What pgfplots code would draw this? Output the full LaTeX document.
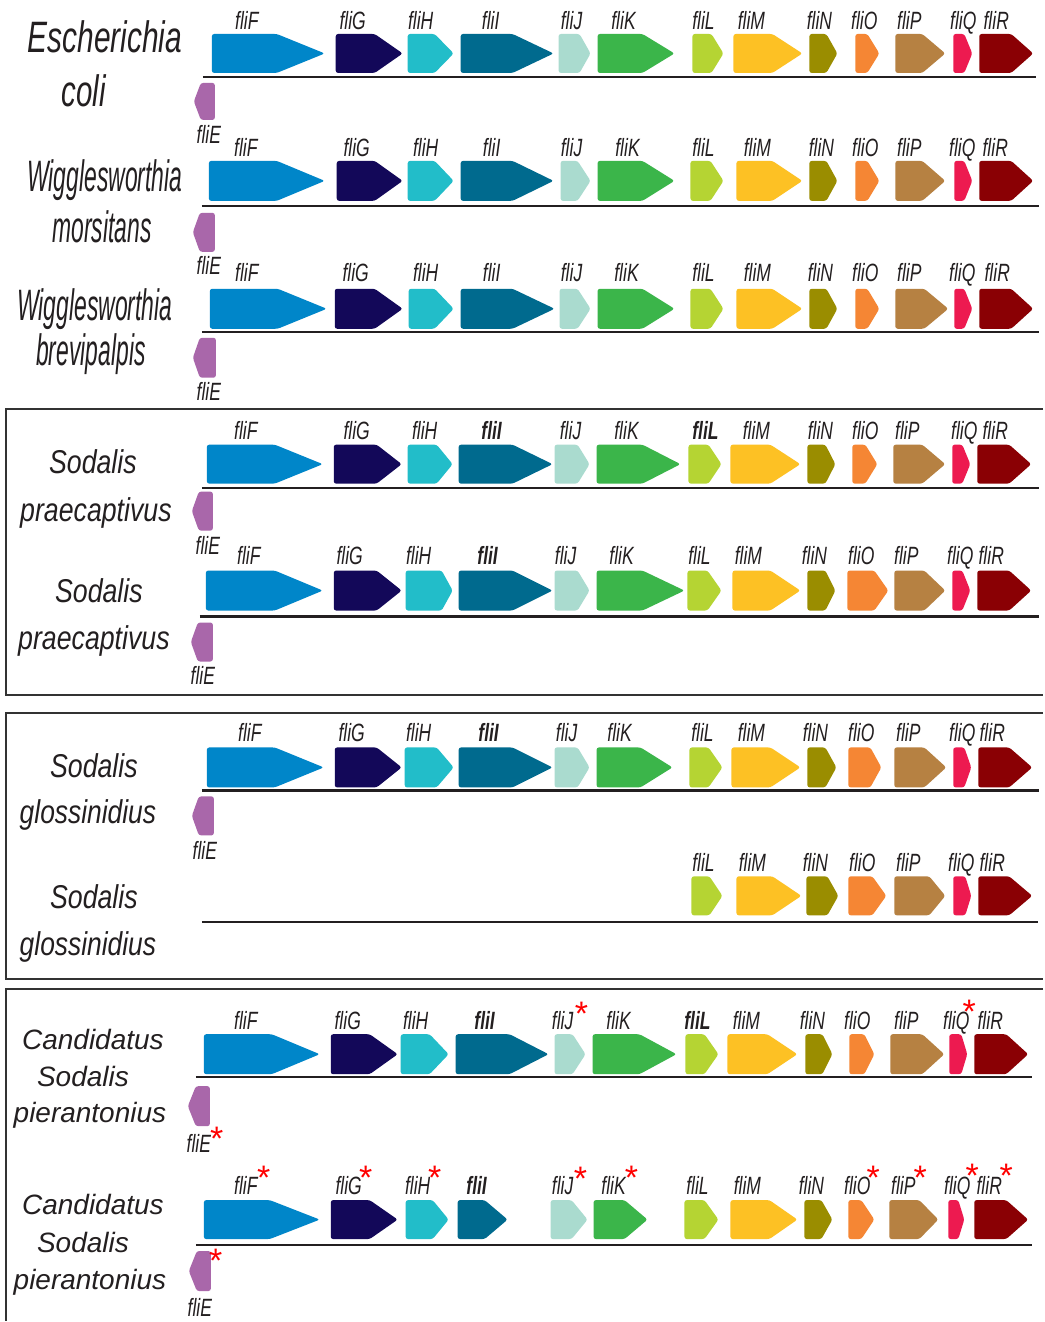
\documentclass[border=0pt]{standalone}
\usepackage{pgfplots}
\pgfplotsset{compat=1.18}
\usepackage{fontspec}
\setmainfont{Liberation Sans}
\usepackage{graphicx}

% gene colours
\definecolor{cE}{HTML}{A967AA}
\definecolor{cF}{HTML}{0086C9}
\definecolor{cG}{HTML}{130859}
\definecolor{cH}{HTML}{22BDC9}
\definecolor{cI}{HTML}{006A8E}
\definecolor{cJ}{HTML}{AADBCF}
\definecolor{cK}{HTML}{3BB54A}
\definecolor{cL}{HTML}{B5D433}
\definecolor{cM}{HTML}{FDC124}
\definecolor{cN}{HTML}{9A8D00}
\definecolor{cO}{HTML}{F58634}
\definecolor{cP}{HTML}{B68142}
\definecolor{cQ}{HTML}{ED1A50}
\definecolor{cR}{HTML}{8A0004}
\definecolor{txt}{HTML}{231F20}

% gene arrow: start, start of head, tip, top, bottom, colour
\newcommand\gene[6]{%
  \pgfmathsetmacro\ym{(#4+#5)/2}%
  \addplot[fill=#6, draw=none, rounded corners=1.2pt]
    coordinates {(#1,#4) (#2,#4) (#3,\ym) (#2,#5) (#1,#5)} -- cycle;}
% chromosome line: y, x from, x to
\newcommand\chrom[3]{%
  \addplot[line width=1.1pt, color=txt] coordinates {(#2,#1) (#3,#1)};}
% gene name: x, baseline, text
\newcommand\lab[3]{%
  \node[anchor=base, inner sep=0pt, text=txt,
        font=\fontsize{12.5}{12.5}\selectfont\itshape]
    at (axis cs:#1,#2) {\scalebox{0.70}[1]{#3}};}
\newcommand\blab[3]{\lab{#1}{#2}{\bfseries #3}}
% red asterisk: x, baseline
\newcommand\rst[2]{%
  \node[anchor=base, inner sep=0pt, text=red,
        font=\fontsize{17}{17}\selectfont]
    at (axis cs:#1,#2) {*};}
% species name: x, baseline, size, horizontal scale, text
\newcommand\spec[5]{%
  \node[anchor=base, inner sep=0pt, text=txt,
        font=\fontsize{#3}{#3}\selectfont\itshape]
    at (axis cs:#1,#2) {\scalebox{#4}[1]{#5}};}

\begin{document}
\begin{tikzpicture}
\begin{axis}[scale only axis, width=522pt, height=661pt,
  xmin=0, xmax=1044, ymin=0, ymax=1322, y dir=reverse,
  hide axis, clip=false]

\addplot[fill=white, draw=none] coordinates {(0,0) (1044,0) (1044,1322) (0,1322)};

% group frames
\addplot[line width=1pt, color=black!80] coordinates {(1044,409) (6,409) (6,696) (1044,696)};
\addplot[line width=1pt, color=black!80] coordinates {(1044,714) (6,714) (6,980) (1044,980)};
\addplot[line width=1pt, color=black!80] coordinates {(1044,990) (6,990) (6,1322)};

% ---- Escherichia coli
\chrom{77}{203}{1037}
\gene{212}{277}{325}{34}{73}{cF}
\gene{336}{375}{403}{34}{73}{cG}
\gene{408}{435}{454}{34}{73}{cH}
\gene{461}{513}{554}{34}{73}{cI}
\gene{559}{580}{591}{34}{73}{cJ}
\gene{598}{643}{675}{34}{73}{cK}
\gene{693}{712}{724}{34}{73}{cL}
\gene{734}{773}{803}{34}{73}{cM}
\gene{810}{827}{838}{34}{73}{cN}
\gene{856}{868}{880}{34}{73}{cO}
\gene{896}{923}{946}{34}{73}{cP}
\gene{954}{965}{973}{34}{73}{cQ}
\gene{980}{1012}{1034}{34}{73}{cR}
\gene{215}{201}{194}{83}{120}{cE}
\lab{247}{30}{fliF}\lab{353}{30}{fliG}\lab{421}{30}{fliH}\lab{491}{30}{fliI}
\lab{572}{30}{fliJ}\lab{624}{30}{fliK}\lab{704}{30}{fliL}\lab{752}{30}{fliM}
\lab{820}{30}{fliN}\lab{865}{30}{fliO}\lab{910}{30}{fliP}\lab{964}{30}{fliQ}
\lab{997}{30}{fliR}\lab{209}{144}{fliE}
\spec{105}{53}{22}{0.68}{Escherichia}
\spec{84}{107}{22}{0.67}{coli}

% ---- Wigglesworthia morsitans
\chrom{206}{202}{1040}
\gene{209}{277}{325}{161}{201}{cF}
\gene{337}{375}{403}{161}{201}{cG}
\gene{408}{435}{454}{161}{201}{cH}
\gene{461}{513}{554}{161}{201}{cI}
\gene{561}{578}{591}{161}{201}{cJ}
\gene{598}{643}{675}{161}{201}{cK}
\gene{691}{711}{724}{161}{201}{cL}
\gene{737}{773}{803}{161}{201}{cM}
\gene{810}{827}{838}{161}{201}{cN}
\gene{856}{868}{880}{161}{201}{cO}
\gene{896}{923}{946}{161}{201}{cP}
\gene{955}{965}{973}{161}{201}{cQ}
\gene{980}{1012}{1034}{161}{201}{cR}
\gene{215}{200}{193}{213}{252}{cE}
\lab{246}{157}{fliF}\lab{357}{157}{fliG}\lab{426}{157}{fliH}\lab{492}{157}{fliI}
\lab{572}{157}{fliJ}\lab{628}{157}{fliK}\lab{704}{157}{fliL}\lab{758}{157}{fliM}
\lab{822}{157}{fliN}\lab{866}{157}{fliO}\lab{910}{157}{fliP}\lab{963}{157}{fliQ}
\lab{996}{157}{fliR}\lab{209}{275}{fliE}
\spec{105}{192}{22}{0.52}{Wigglesworthia}
\spec{102}{243}{22}{0.52}{morsitans}

% ---- Wigglesworthia brevipalpis
\chrom{332}{202}{1040}
\gene{210}{278}{327}{289}{329}{cF}
\gene{335}{375}{403}{289}{329}{cG}
\gene{409}{435}{454}{289}{329}{cH}
\gene{461}{513}{555}{289}{329}{cI}
\gene{560}{578}{591}{289}{329}{cJ}
\gene{598}{643}{675}{289}{329}{cK}
\gene{691}{711}{724}{289}{329}{cL}
\gene{737}{773}{803}{289}{329}{cM}
\gene{810}{827}{838}{289}{329}{cN}
\gene{856}{868}{880}{289}{329}{cO}
\gene{896}{925}{949}{289}{329}{cP}
\gene{955}{965}{973}{289}{329}{cQ}
\gene{980}{1012}{1034}{289}{329}{cR}
\gene{216}{200}{193}{338}{378}{cE}
\lab{247}{282}{fliF}\lab{356}{282}{fliG}\lab{426}{282}{fliH}\lab{492}{282}{fliI}
\lab{572}{282}{fliJ}\lab{627}{282}{fliK}\lab{704}{282}{fliL}\lab{758}{282}{fliM}
\lab{821}{282}{fliN}\lab{866}{282}{fliO}\lab{910}{282}{fliP}\lab{963}{282}{fliQ}
\lab{998}{282}{fliR}\lab{209}{401}{fliE}
\spec{95}{321}{22}{0.52}{Wigglesworthia}
\spec{91}{366}{22}{0.52}{brevipalpis}

% ---- Sodalis praecaptivus (first)
\chrom{488}{202}{1040}
\gene{207}{275}{323}{445}{484}{cF}
\gene{334}{377}{402}{445}{484}{cG}
\gene{408}{437}{453}{445}{484}{cH}
\gene{459}{513}{553}{445}{484}{cI}
\gene{555}{578}{590}{445}{484}{cJ}
\gene{597}{643}{681}{445}{484}{cK}
\gene{689}{709}{722}{445}{484}{cL}
\gene{731}{771}{801}{445}{484}{cM}
\gene{808}{826}{836}{445}{484}{cN}
\gene{853}{866}{878}{445}{484}{cO}
\gene{894}{923}{946}{445}{484}{cP}
\gene{953}{963}{971}{445}{484}{cQ}
\gene{978}{1010}{1032}{445}{484}{cR}
\gene{213}{199}{192}{492}{531}{cE}
\lab{246}{440}{fliF}\lab{357}{440}{fliG}\lab{425}{440}{fliH}\blab{492}{440}{fliI}
\lab{571}{440}{fliJ}\lab{627}{440}{fliK}\blab{706}{440}{fliL}\lab{757}{440}{fliM}
\lab{821}{440}{fliN}\lab{866}{440}{fliO}\lab{908}{440}{fliP}\lab{965}{440}{fliQ}
\lab{996}{440}{fliR}\lab{208}{555}{fliE}
\spec{93}{474}{16.5}{0.81}{Sodalis}
\spec{96}{522}{16.5}{0.81}{praecaptivus}

% ---- Sodalis praecaptivus (second)
\chrom{617}{200}{1040}
\gene{206}{275}{323}{571}{611}{cF}
\gene{334}{377}{402}{571}{611}{cG}
\gene{406}{442}{453}{571}{611}{cH}
\gene{459}{513}{553}{571}{611}{cI}
\gene{555}{578}{590}{571}{611}{cJ}
\gene{597}{643}{685}{571}{611}{cK}
\gene{688}{708}{722}{571}{611}{cL}
\gene{733}{771}{801}{571}{611}{cM}
\gene{808}{826}{836}{571}{611}{cN}
\gene{848}{875}{889}{571}{611}{cO}
\gene{895}{925}{946}{571}{611}{cP}
\gene{953}{963}{971}{571}{611}{cQ}
\gene{978}{1010}{1032}{571}{611}{cR}
\gene{213}{198}{191}{623}{662}{cE}
\lab{249}{565}{fliF}\lab{350}{565}{fliG}\lab{419}{565}{fliH}\blab{488}{565}{fliI}
\lab{566}{565}{fliJ}\lab{622}{565}{fliK}\lab{700}{565}{fliL}\lab{749}{565}{fliM}
\lab{815}{565}{fliN}\lab{862}{565}{fliO}\lab{907}{565}{fliP}\lab{961}{565}{fliQ}
\lab{992}{565}{fliR}\lab{203}{685}{fliE}
\spec{99}{603}{16.5}{0.81}{Sodalis}
\spec{94}{650}{16.5}{0.81}{praecaptivus}

% ---- Sodalis glossinidius (first)
\chrom{791}{202}{1040}
\gene{207}{275}{324}{748}{788}{cF}
\gene{335}{377}{402}{748}{788}{cG}
\gene{405}{437}{454}{748}{788}{cH}
\gene{459}{513}{553}{748}{788}{cI}
\gene{555}{578}{590}{748}{788}{cJ}
\gene{597}{641}{673}{748}{788}{cK}
\gene{690}{709}{723}{748}{788}{cL}
\gene{732}{771}{801}{748}{788}{cM}
\gene{808}{826}{837}{748}{788}{cN}
\gene{849}{871}{882}{748}{788}{cO}
\gene{895}{925}{947}{748}{788}{cP}
\gene{954}{965}{972}{748}{788}{cQ}
\gene{979}{1010}{1033}{748}{788}{cR}
\gene{214}{199}{192}{797}{836}{cE}
\lab{250}{742}{fliF}\lab{352}{742}{fliG}\lab{419}{742}{fliH}\blab{489}{742}{fliI}
\lab{567}{742}{fliJ}\lab{620}{742}{fliK}\lab{703}{742}{fliL}\lab{752}{742}{fliM}
\lab{816}{742}{fliN}\lab{862}{742}{fliO}\lab{909}{742}{fliP}\lab{963}{742}{fliQ}
\lab{993}{742}{fliR}\lab{205}{860}{fliE}
\spec{94}{778}{16.5}{0.81}{Sodalis}
\spec{88}{824}{16.5}{0.80}{glossinidius}

% ---- Sodalis glossinidius (second)
\chrom{923}{202}{1039}
\gene{692}{710}{723}{877}{916}{cL}
\gene{737}{773}{802}{877}{916}{cM}
\gene{807}{828}{839}{877}{916}{cN}
\gene{849}{873}{887}{877}{916}{cO}
\gene{895}{930}{946}{877}{916}{cP}
\gene{954}{966}{972}{877}{916}{cQ}
\gene{979}{1010}{1033}{877}{916}{cR}
\lab{704}{872}{fliL}\lab{753}{872}{fliM}\lab{816}{872}{fliN}\lab{863}{872}{fliO}
\lab{909}{872}{fliP}\lab{962}{872}{fliQ}\lab{993}{872}{fliR}
\spec{94}{909}{16.5}{0.81}{Sodalis}
\spec{88}{956}{16.5}{0.80}{glossinidius}

% ---- Candidatus Sodalis pierantonius (first)
\chrom{1078}{196}{1033}
\gene{204}{272}{320}{1035}{1075}{cF}
\gene{331}{370}{398}{1035}{1075}{cG}
\gene{401}{430}{449}{1035}{1075}{cH}
\gene{456}{510}{549}{1035}{1075}{cI}
\gene{555}{573}{586}{1035}{1075}{cJ}
\gene{593}{640}{677}{1035}{1075}{cK}
\gene{686}{705}{719}{1035}{1075}{cL}
\gene{728}{768}{798}{1035}{1075}{cM}
\gene{806}{823}{833}{1035}{1075}{cN}
\gene{850}{865}{875}{1035}{1075}{cO}
\gene{891}{923}{945}{1035}{1075}{cP}
\gene{950}{962}{968}{1035}{1075}{cQ}
\gene{975}{1007}{1029}{1035}{1075}{cR}
\gene{210}{196}{188}{1087}{1127}{cE}
\lab{246}{1030}{fliF}\lab{348}{1030}{fliG}\lab{416}{1030}{fliH}\blab{485}{1030}{fliI}
\lab{563}{1030}{fliJ}\lab{619}{1030}{fliK}\blab{698}{1030}{fliL}\lab{747}{1030}{fliM}
\lab{813}{1030}{fliN}\lab{858}{1030}{fliO}\lab{907}{1030}{fliP}\lab{957}{1030}{fliQ}
\lab{991}{1030}{fliR}\lab{199}{1153}{fliE}
\rst{582}{1026}\rst{970}{1024}\rst{217}{1151}
\spec{93}{1050}{14}{1}{Candidatus}
\spec{83}{1087}{14}{1}{Sodalis}
\spec{90}{1123}{14}{1}{pierantonius}

% ---- Candidatus Sodalis pierantonius (second)
\chrom{1246}{196}{1033}
\gene{204}{270}{320}{1201}{1240}{cF}
\gene{331}{370}{398}{1201}{1240}{cG}
\gene{406}{433}{449}{1201}{1240}{cH}
\gene{458}{485}{508}{1201}{1240}{cI}
\gene{551}{572}{588}{1201}{1240}{cJ}
\gene{594}{625}{648}{1201}{1240}{cK}
\gene{685}{705}{719}{1201}{1240}{cL}
\gene{731}{770}{798}{1201}{1240}{cM}
\gene{805}{822}{833}{1201}{1240}{cN}
\gene{849}{862}{875}{1201}{1240}{cO}
\gene{890}{920}{939}{1201}{1240}{cP}
\gene{949}{959}{965}{1201}{1240}{cQ}
\gene{975}{1007}{1029}{1201}{1240}{cR}
\gene{211}{197}{189}{1252}{1292}{cE}
\lab{246}{1195}{fliF}\lab{349}{1195}{fliG}\lab{418}{1195}{fliH}\blab{477}{1195}{fliI}
\lab{563}{1195}{fliJ}\lab{614}{1195}{fliK}\lab{698}{1195}{fliL}\lab{748}{1195}{fliM}
\lab{812}{1195}{fliN}\lab{858}{1195}{fliO}\lab{904}{1195}{fliP}\lab{958}{1195}{fliQ}
\lab{990}{1195}{fliR}\lab{200}{1317}{fliE}
\rst{264}{1190}\rst{366}{1190}\rst{435}{1190}\rst{581}{1191}\rst{632}{1190}
\rst{874}{1190}\rst{921}{1190}\rst{973}{1188}\rst{1007}{1188}\rst{216}{1273}
\spec{93}{1215}{14}{1}{Candidatus}
\spec{83}{1253}{14}{1}{Sodalis}
\spec{90}{1290}{14}{1}{pierantonius}

\end{axis}
\end{tikzpicture}
\end{document}
